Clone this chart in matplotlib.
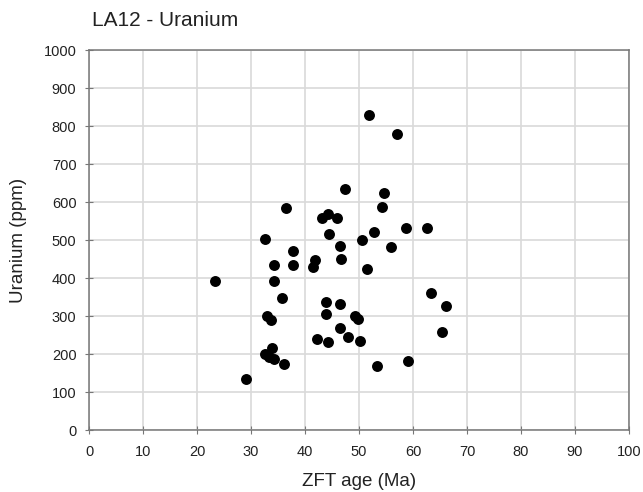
import matplotlib
matplotlib.use("Agg")
import matplotlib.pyplot as plt

plt.rcParams['font.family'] = ['Liberation Sans', 'DejaVu Sans']

# ZFT age (Ma) and uranium content (ppm) for single grains
zft_age = [51.8, 57.1, 47.4, 54.7, 36.4, 54.3, 43.1, 44.3, 46.0, 58.7,
           62.5, 32.6, 44.4, 52.7, 50.6, 46.5, 55.9, 37.8, 46.7, 51.4,
           34.2, 37.8, 41.9, 41.4, 23.3, 34.3, 35.8, 43.8, 46.4, 63.3,
           66.1, 33.0, 33.7, 43.9, 49.3, 49.9, 46.5, 65.3, 42.2, 44.3,
           48.0, 50.1, 33.8, 32.6, 33.4, 34.3, 36.2, 53.4, 59.1, 29.0]
uranium = [830, 778, 634, 625, 583, 588, 559, 568, 559, 532,
           532, 502, 515, 520, 500, 483, 481, 470, 450, 425,
           435, 435, 447, 430, 392, 392, 348, 338, 332, 360,
           326, 301, 289, 306, 301, 291, 268, 259, 240, 231,
           245, 235, 215, 199, 193, 188, 173, 168, 182, 135]

fig = plt.figure(figsize=(6.43, 4.92), dpi=100)
ax = fig.add_axes([89/643, 62/492, 540/643, 380/492])

ax.scatter(zft_age, uranium, s=62, color='black', zorder=3, linewidths=0)

ax.set_xlim(0, 100)
ax.set_ylim(0, 1000)
ax.set_xticks(range(0, 101, 10))
ax.set_yticks(range(0, 1001, 100))
ax.grid(True, color='#d9d9d9', linewidth=1.2)
ax.set_axisbelow(True)
for s in ax.spines.values():
    s.set_color('#777777')
    s.set_linewidth(1.1)
ax.tick_params(direction='inout', length=6, color='#777777', labelsize=10.5,
               labelcolor='#222222')
ax.tick_params(axis='x', pad=8)
ax.tick_params(axis='y', pad=6)

ax.set_xlabel('ZFT age (Ma)', fontsize=13.5, color='#222222', va='center')
ax.set_ylabel('Uranium (ppm)', fontsize=13.5, color='#222222', va='center')
ax.xaxis.set_label_coords(0.5, (430 - 481) / 380)
ax.yaxis.set_label_coords((19 - 89) / 540, 0.5)
fig.text(92/643, 1 - 21/492, 'LA12 - Uranium', fontsize=15, va='center', ha='left',
         color='#222222')

fig.savefig('out.png', dpi=100)
